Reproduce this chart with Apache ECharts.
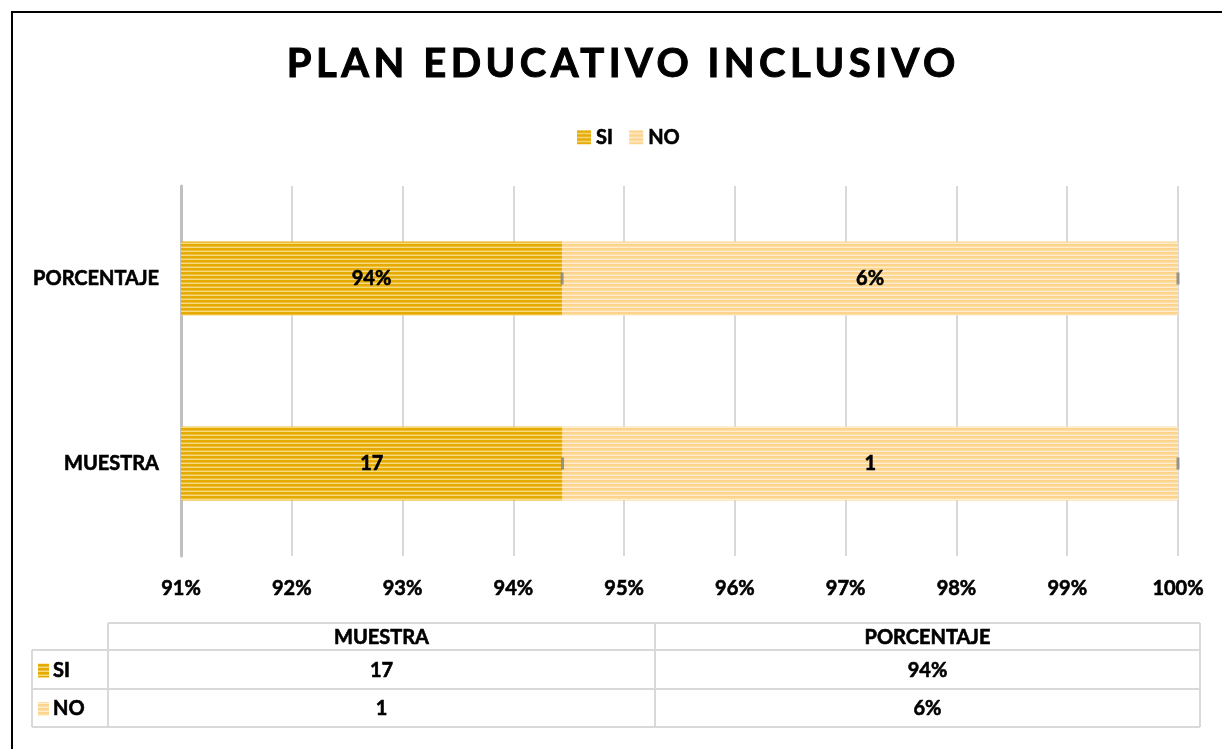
<!DOCTYPE html>
<html>
<head>
<meta charset="utf-8">
<script src="https://cdn.jsdelivr.net/npm/echarts@6/dist/echarts.min.js"></script>
<style>
  html, body { margin: 0; padding: 0; background: #fff; }
  #chart { width: 1222px; height: 749px; }
</style>
</head>
<body>
<div id="chart"></div>
<script>
// datos
const titleText = 'PLAN EDUCATIVO INCLUSIVO';
const categories = ['MUESTRA', 'PORCENTAJE'];
const seriesNames = ['SI', 'NO'];
const muestraValues = [17, 1];
const porcentajeValues = [94.44, 5.56];
const axisMin = 91, axisMax = 100, axisStep = 1;

// titulo con espaciado entre letras (zrender no lo soporta)
const fillText0 = CanvasRenderingContext2D.prototype.fillText;
const strokeText0 = CanvasRenderingContext2D.prototype.strokeText;
function spaced(fn) {
    return function (t, x, y, w) {
        if (t === titleText) {
            this.save();
            this.letterSpacing = '4.5px';
            fn.call(this, t, x + 2.25, y);
            this.restore();
            return;
        }
        return w === undefined ? fn.call(this, t, x, y) : fn.call(this, t, x, y, w);
    };
}
CanvasRenderingContext2D.prototype.fillText = spaced(fillText0);
CanvasRenderingContext2D.prototype.strokeText = spaced(strokeText0);

// tramas de rayas horizontales
function stripes(dark, mid, light) {
    const c = document.createElement('canvas');
    c.width = 4; c.height = 4;
    const ctx = c.getContext('2d');
    ctx.fillStyle = dark; ctx.fillRect(0, 0, 4, 2);
    ctx.fillStyle = mid; ctx.fillRect(0, 2, 4, 1);
    ctx.fillStyle = light; ctx.fillRect(0, 3, 4, 1);
    return { image: c, repeat: 'repeat' };
}
const patterns = [
    stripes('#E5AB00', '#EDBE3A', '#F8DA80'),
    stripes('#FDD48C', '#FEDFA8', '#FFEDD0')
];

const muestraTotal = muestraValues.reduce((a, b) => a + b, 0);
const porcentajeTotal = porcentajeValues.reduce((a, b) => a + b, 0);
const barData = seriesNames.map((n, i) => [
    muestraValues[i] / muestraTotal * 100,
    porcentajeValues[i] / porcentajeTotal * 100
]);

// marcas grises al final de cada tramo
const endMarks = [];
categories.forEach((c, j) => {
    let acc = 0;
    barData.forEach(d => { acc += d[j]; endMarks.push([acc, c]); });
});

const font = 'Lato, "Open Sans", sans-serif';
const boldText = {
    fontFamily: font, fontWeight: 'bold', fontSize: 20, color: '#000',
    textBorderColor: '#000', textBorderWidth: 0.6
};

const chart = echarts.init(document.getElementById('chart'));

// tabla de datos debajo del grafico
const tx = [32, 108, 655, 1200];
const ty = [623, 650, 689, 727];
const lineStyle = { stroke: '#D9D9D9', lineWidth: 2 };
const table = [];
const hline = (y, x0, x1) => table.push({ type: 'line', shape: { x1: x0, y1: y, x2: x1, y2: y }, style: lineStyle, silent: true });
const vline = (x, y0, y1) => table.push({ type: 'line', shape: { x1: x, y1: y0, x2: x, y2: y1 }, style: lineStyle, silent: true });
hline(ty[0], tx[1], tx[3]);
hline(ty[1], tx[0], tx[3]);
hline(ty[2], tx[0], tx[3]);
hline(ty[3], tx[0], tx[3]);
vline(tx[0], ty[1], ty[3]);
vline(tx[1], ty[0], ty[3]);
vline(tx[2], ty[0], ty[3]);
vline(tx[3], ty[0], ty[3]);
const cellText = (s, x, y, align) => table.push({
    type: 'text', x: x, y: y, silent: true,
    style: {
        text: String(s), fill: '#000', font: 'bold 20px ' + font, stroke: '#000', lineWidth: 0.6,
        textAlign: align || 'center', textVerticalAlign: 'middle'
    }
});
categories.forEach((c, j) => cellText(c, (tx[j + 1] + tx[j + 2]) / 2, (ty[0] + ty[1]) / 2 + 1));
seriesNames.forEach((name, i) => {
    const yMid = (ty[i + 1] + ty[i + 2]) / 2 + 1;
    table.push({ type: 'rect', shape: { x: 38, y: yMid - 7, width: 11, height: 14 }, style: { fill: patterns[i] }, silent: true });
    cellText(name, 53, yMid, 'left');
    cellText(muestraValues[i], (tx[1] + tx[2]) / 2, yMid);
    cellText(Math.round(porcentajeValues[i]) + '%', (tx[2] + tx[3]) / 2, yMid);
});

let option = {
    animation: false,
    backgroundColor: '#fff',
    legend: {
        top: 122,
        left: 572,
        itemWidth: 14,
        itemHeight: 14,
        itemGap: 16,
        itemStyle: { borderWidth: 0 },
        icon: 'rect',
        textStyle: boldText,
        data: seriesNames
    },
    grid: { left: 181, right: 44, top: 186, bottom: 193 },
    xAxis: {
        type: 'value',
        min: axisMin,
        max: axisMax,
        interval: axisStep,
        axisLine: { show: false },
        axisTick: { show: false },
        splitLine: { lineStyle: { color: '#D9D9D9', width: 2 } },
        axisLabel: { margin: 23, formatter: v => v + '%', ...boldText }
    },
    yAxis: {
        type: 'category',
        data: categories,
        axisLine: { lineStyle: { color: '#C0C0C0', width: 3 } },
        axisTick: { show: false },
        axisLabel: { margin: 22, ...boldText }
    },
    series: [
        ...seriesNames.map((name, i) => ({
            name: name,
            type: 'bar',
            stack: 'total',
            clip: true,
            barWidth: '40%',
            itemStyle: { color: patterns[i] },
            label: {
                show: true,
                position: 'inside',
                ...boldText,
                formatter: p => p.dataIndex === 0 ? String(muestraValues[i]) : Math.round(porcentajeValues[i]) + '%'
            },
            data: barData[i]
        })),
        {
            type: 'scatter',
            symbol: 'rect',
            symbolSize: [3, 12],
            clip: true,
            silent: true,
            itemStyle: { color: '#7F7F7F' },
            data: endMarks
        }
    ],
    graphic: [
        {
            type: 'rect', silent: true, z: 100,
            shape: { x: 12, y: 12, width: 1240, height: 770 },
            style: { fill: 'none', stroke: '#000', lineWidth: 2 }
        },
        {
            type: 'text', x: 621, y: 64, silent: true,
            style: {
                text: titleText, fill: '#000', stroke: '#000', lineWidth: 1,
                font: 'bold 40px ' + font, textAlign: 'center', textVerticalAlign: 'middle'
            }
        },
        ...table
    ]
};

chart.setOption(option);
</script>
</body>
</html>
